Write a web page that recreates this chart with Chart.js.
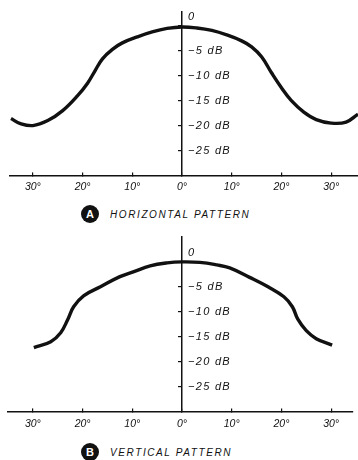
<!DOCTYPE html>
<html>
<head>
<meta charset="utf-8">
<script src="https://cdn.jsdelivr.net/npm/chart.js@4.4.1/dist/chart.umd.min.js"></script>
<style>
  html, body { margin: 0; padding: 0; background: #fff; }
  body { width: 358px; height: 460px; position: relative; overflow: hidden; font-family: "Liberation Sans", Arial, sans-serif; }
  .box { position: absolute; left: 0; width: 358px; }
  .cap { position: absolute; left: 81px; height: 18px; display: flex; align-items: center; color: #111; }
  .dot { width: 18px; height: 18px; border-radius: 50%; background: #111; color: #fff; font: bold 11px "Liberation Sans", Arial, sans-serif; display: flex; align-items: center; justify-content: center; margin-right: 11px; }
  .txt { font: italic 10px "Liberation Sans", Arial, sans-serif; letter-spacing: 1.6px; }
</style>
</head>
<body>
<div class="box" style="top:0;height:201px"><canvas id="c1"></canvas></div>
<div class="cap" style="top:205px"><div class="dot">A</div><span class="txt">HORIZONTAL PATTERN</span></div>
<div class="box" style="top:225px;height:214px"><canvas id="c2"></canvas></div>
<div class="cap" style="top:443px"><div class="dot">B</div><span class="txt">VERTICAL PATTERN</span></div>
<script>
// ---- data ----
const xTickValues = [-30, -20, -10, 0, 10, 20, 30];
const xTickLabels = ['30°', '20°', '10°', '0°', '10°', '20°', '30°'];
const yTickValues = [0, -5, -10, -15, -20, -25];
const yTickLabels = ['0', '−5 dB', '−10 dB', '−15 dB', '−20 dB', '−25 dB'];

const horizAngles = [-34.4, -32.5, -30, -27, -24, -21, -19, -17.5, -16, -14, -12, -9, -6, -3, 0, 3, 6, 9, 12, 14, 16, 18, 20, 22, 24.5, 27, 30, 33, 35.4];
const horizDb     = [-18.6, -19.6, -20, -19, -17, -14, -11.5, -9, -6.6, -4.7, -3.4, -2.2, -1.2, -0.5, -0.2, -0.4, -0.9, -1.8, -3, -4.2, -6.2, -9.4, -12.4, -15, -17.3, -18.8, -19.5, -19.3, -17.7];

const vertAngles = [-29.8, -26.4, -24.4, -23, -21.8, -19.8, -16.4, -12.6, -9.8, -6.4, -3, 0, 3.6, 7, 9.6, 13.6, 17.3, 20.5, 22.2, 23.3, 25, 27, 30.2];
const vertDb     = [-17.2, -16, -14.2, -11.6, -9, -6.8, -5, -3, -2, -0.8, -0.2, 0, -0.1, -0.6, -1.2, -3.1, -5, -7, -9, -11.5, -13.8, -15.4, -16.7];

const INK = '#111';

const yLabelPlugin = {
  id: 'yLabels',
  afterDraw(chart) {
    const { ctx, scales: { x, y } } = chart;
    const px = x.getPixelForValue(0);
    ctx.save();
    ctx.font = 'italic 11px "Liberation Sans", Arial, sans-serif';
    ctx.letterSpacing = '1.3px';
    ctx.fillStyle = INK;
    ctx.textAlign = 'left';
    ctx.textBaseline = 'middle';
    y.ticks.forEach(t => {
      const py = y.getPixelForValue(t.value) + (t.value === 0 ? -9 : 0);
      ctx.fillText(t.label, px + 6, py);
    });
    ctx.restore();
  }
};

function makeChart(id, angles, db, xmin, xmax, ymax, pad, tickPad) {
  return new Chart(document.getElementById(id), {
    type: 'line',
    data: {
      datasets: [{
        data: angles.map((a, i) => ({ x: a, y: db[i] })),
        borderColor: INK,
        borderWidth: 3.4,
        pointRadius: 0,
        tension: 0.4,
        fill: false
      }]
    },
    options: {
      responsive: true,
      maintainAspectRatio: false,
      animation: false,
      layout: { padding: pad },
      plugins: { legend: { display: false }, tooltip: { enabled: false }, title: { display: false } },
      scales: {
        x: {
          type: 'linear',
          position: 'bottom',
          min: xmin, max: xmax,
          afterBuildTicks: s => { s.ticks = xTickValues.map(v => ({ value: v })); },
          ticks: {
            callback: v => xTickLabels[xTickValues.indexOf(v)],
            color: INK,
            padding: tickPad,
            maxRotation: 0,
            autoSkip: false,
            font: { family: '"Liberation Sans", Arial, sans-serif', size: 10.5, style: 'italic' }
          },
          grid: { drawOnChartArea: false, tickLength: -3, color: INK, lineWidth: 1.2 },
          border: { display: true, color: INK, width: 1.5 }
        },
        y: {
          type: 'linear',
          position: { x: 0 },
          min: -30, max: ymax,
          afterBuildTicks: s => { s.ticks = yTickValues.map(v => ({ value: v })); },
          ticks: {
            display: false,
            callback: v => yTickLabels[yTickValues.indexOf(v)]
          },
          grid: { drawOnChartArea: false, tickLength: 3, color: INK, lineWidth: 1.2 },
          border: { display: true, color: INK, width: 1.5 }
        }
      }
    },
    plugins: [yLabelPlugin]
  });
}

makeChart('c1', horizAngles, horizDb, -34.6, 35.4, 2.8, { top: 12, left: 10, right: 0, bottom: 0 }, 8);
makeChart('c2', vertAngles, vertDb, -35.0, 34.4, 5, { top: 12, left: 8, right: 5, bottom: 0 }, 9);
</script>
</body>
</html>
